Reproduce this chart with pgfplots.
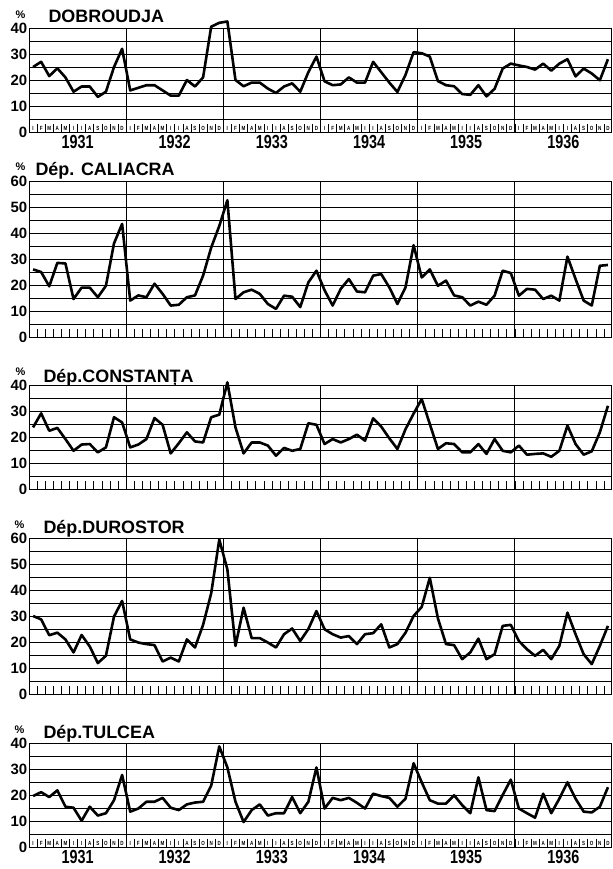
\documentclass[border=0pt]{standalone}
\usepackage{pgfplots}
\pgfplotsset{compat=1.18}
\usepackage{pgfplotstable}
\usepackage{fontspec}
\setmainfont{Liberation Sans}
\newfontfamily\condfont[FakeStretch=0.76]{Liberation Sans}

% monthly shares (%), 1931-1936, one column per region
\pgfplotstableread{
dob  cal  con  dur  tul
25   26   23.7 30   19.6
27   25   29.1 28.7 21.1
21.5 19.5 22.4 22.6 19.2
24.5 28.5 23.5 23.6 21.8
21   28.3 19.2 21   15.5
15.5 14.6 14.7 16   15.1
17.5 19   17.1 22.7 10.1
17.5 19   17.3 18.3 15.5
13.5 15.3 14.1 11.9 12.1
15.5 19.7 16   14.7 13
25   36   27.6 29.8 18
32   43.5 25.6 35.8 27.7
16   14   16   21   13.6
17   16   17.1 19.8 14.8
18   15.3 19.2 19.2 17.4
18   20.5 27.3 18.8 17.4
16   16.6 24.7 12.5 18.9
14   12.1 13.7 14   15.1
14   12.4 17.6 12.5 14.2
20   15.3 21.8 21   16.4
17.5 16   18.3 17.9 17.1
21   23.6 17.9 26.6 17.4
40.5 34.4 27.6 38.7 23.6
42   42.7 28.6 59.4 38.7
42.5 52.6 41   47.9 30.6
20   14.6 23.7 18.5 17.4
17.6 17.2 13.7 33.2 9.6
19   18.2 17.9 21.5 14.2
19   16.6 17.9 21.5 16.4
16.7 12.7 16.7 19.8 12.1
15   10.8 12.8 17.9 13
17.5 15.9 15.8 23   13
18.7 15.5 14.7 25.2 19.2
15.5 11.5 15.4 20.4 13
23   21   25.3 25   17.4
29   25.5 24.7 31.9 30.6
19.5 18   17.3 24.9 14.8
18   12.1 19.2 23   18.9
18.3 18.5 17.9 21.7 18
21   22.3 19.2 22.3 18.9
19   17.5 20.9 19.2 17
19   17.2 18.6 23   14.8
27   23.6 27.2 23.4 20.5
23   24.2 24   26.8 19.6
19   19.1 19.5 17.9 18.9
15.4 12.7 15.4 19.2 15.5
22   19.1 23   23.6 18.6
30.7 35.3 29   30   32.2
30.3 22.9 34.6 33.5 24.9
29   26   25   44.7 18
19.6 19.7 15.4 29.1 16.7
18   21.7 17.6 19.2 16.7
17.6 16   17.3 18.8 19.9
14.6 15.3 14.1 13.4 16.1
14.3 12.1 14.1 16   13
18   13.6 17.3 21.3 26.8
13.7 12.4 13.5 13.4 14.2
16.6 15.9 19.2 15.3 13.8
24.4 25.5 14.7 26.2 20
26.3 24.6 14.1 26.6 25.9
25.6 15.9 16.7 20.4 14.8
25   18.5 13.2 17.2 13
24   18.2 13.5 14.7 11.3
26.3 14.6 13.7 17   20.5
23.6 15.9 12.4 13.4 13
26.3 14   14.7 18.5 18.6
28   30.9 24.4 31.3 24.9
21.4 22.3 17.3 23   18.6
24.4 14   13.2 15.3 13.6
22.5 12.1 14.5 11.5 13.3
19.9 27.4 21.8 18.5 15.5
28   27.7 32   26.2 23
}\data

\def\ml{I,F,M,A,M,I,I,A,S,O,N,D}
\newcommand\ylfont{\bfseries\fontsize{15}{15}\selectfont}
\newcommand\ttlfont{\bfseries\fontsize{18}{18}\selectfont}
\newcommand\pcfont{\bfseries\fontsize{11}{11}\selectfont}
\newcommand\yrfont{\condfont\bfseries\fontsize{19}{19}\selectfont}
\newcommand\mfont{\condfont\bfseries\fontsize{6}{6}\selectfont}

\pgfplotsset{
  panel/.style={
    scale only axis, width=583bp, xmin=0, xmax=72, ymin=0,
    clip=false,
    axis line style={black, line width=1bp},
    tick align=inside, xtick pos=bottom, ytick pos=left,
    xtick={0.5,1.5,...,71.5}, xticklabels={},
    major tick length=0pt, minor tick length=8bp,
    minor xtick={1,...,71},
    every minor tick/.append style={black, line width=0.6bp},
    extra x ticks={12,24,36,48,60}, extra x tick labels={},
    extra x tick style={grid=major, major grid style={black, line width=0.7bp}},
    ymajorgrids, yminorgrids,
    grid style={black, line width=0.5bp},
    yticklabel style={font=\ylfont, inner sep=1.5bp},
    xticklabel style={font=\mfont, anchor=south, inner sep=1bp},
    /pgf/number format/assume math mode=true,
  },
  p40/.style={panel, height=104bp, ymax=40, ytick={0,10,...,40}, minor ytick={5,15,...,35}},
  p60/.style={panel, height=156bp, ymax=60, ytick={0,10,...,60}, minor ytick={5,15,...,55}},
  curve/.style={black, line width=2.6bp, line join=round, no marks},
}

\newcommand\years{%
  \node[font=\yrfont, anchor=north] at (axis cs:6,0) {1931};
  \node[font=\yrfont, anchor=north] at (axis cs:18,0) {1932};
  \node[font=\yrfont, anchor=north] at (axis cs:30,0) {1933};
  \node[font=\yrfont, anchor=north] at (axis cs:42,0) {1934};
  \node[font=\yrfont, anchor=north] at (axis cs:54,0) {1935};
  \node[font=\yrfont, anchor=north] at (axis cs:66,0) {1936};
}

\begin{document}
\begin{tikzpicture}
\useasboundingbox (0,0) rectangle (613bp,-869bp);

% DOBROUDJA
\begin{axis}[p40, at={(29bp,-132bp)}, anchor=south west,
  xticklabels/.expanded={\ml,\ml,\ml,\ml,\ml,\ml}]
\addplot[curve] table[x expr=\coordindex+0.5, y=dob] {\data};
\node[font=\ttlfont, anchor=base west, xshift=16bp, yshift=6bp] at (rel axis cs:0,1) {DOBROUDJA};
\node[font=\pcfont, anchor=base west, xshift=-17bp, yshift=10bp] at (rel axis cs:0,1) {\%};
\years
\end{axis}

% CALIACRA
\begin{axis}[p60, at={(29bp,-337bp)}, anchor=south west]
\addplot[curve] table[x expr=\coordindex+0.5, y=cal] {\data};
\node[font=\ttlfont, anchor=base west, xshift=3bp, yshift=6bp] at (rel axis cs:0,1) {Dép. CALIACRA};
\node[font=\pcfont, anchor=base west, xshift=-17bp, yshift=11bp] at (rel axis cs:0,1) {\%};
\end{axis}

% CONSTANTA
\begin{axis}[p40, at={(29bp,-489bp)}, anchor=south west]
\addplot[curve] table[x expr=\coordindex+0.5, y=con] {\data};
\node[font=\ttlfont, anchor=base west, xshift=11bp, yshift=3bp] at (rel axis cs:0,1) {Dép.CONSTANȚA};
\node[font=\pcfont, anchor=base west, xshift=-17bp, yshift=10bp] at (rel axis cs:0,1) {\%};
\end{axis}

% DUROSTOR
\begin{axis}[p60, at={(29bp,-694bp)}, anchor=south west]
\addplot[curve] table[x expr=\coordindex+0.5, y=dur] {\data};
\node[font=\ttlfont, anchor=base west, xshift=11bp, yshift=5bp] at (rel axis cs:0,1) {Dép.DUROSTOR};
\node[font=\pcfont, anchor=base west, xshift=-18bp, yshift=10bp] at (rel axis cs:0,1) {\%};
\end{axis}

% TULCEA
\begin{axis}[p40, at={(29bp,-847bp)}, anchor=south west,
  xticklabels/.expanded={\ml,\ml,\ml,\ml,\ml,\ml}]
\addplot[curve] table[x expr=\coordindex+0.5, y=tul] {\data};
\node[font=\ttlfont, anchor=base west, xshift=11bp, yshift=5bp] at (rel axis cs:0,1) {Dép.TULCEA};
\node[font=\pcfont, anchor=base west, xshift=-18bp, yshift=10bp] at (rel axis cs:0,1) {\%};
\years
\end{axis}
\end{tikzpicture}
\end{document}
